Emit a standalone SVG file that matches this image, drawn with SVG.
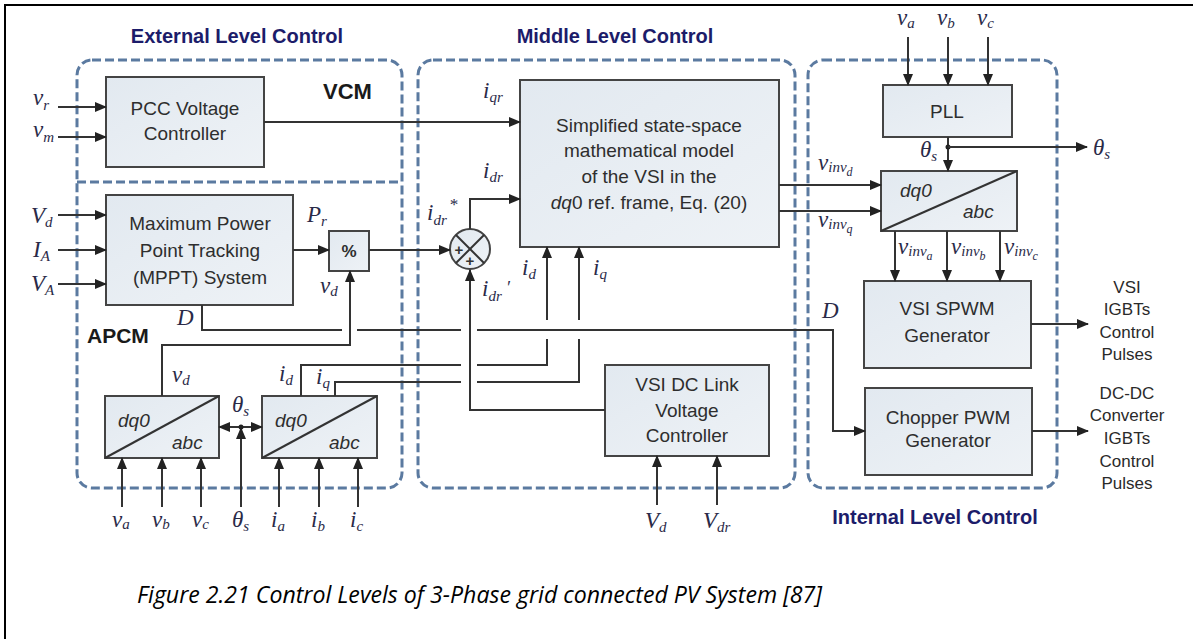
<svg xmlns="http://www.w3.org/2000/svg" width="1193" height="639" viewBox="0 0 1193 639">
<style>
.frame{stroke:#000;stroke-width:2;fill:none}
.cont{fill:none;stroke:#5b7aa0;stroke-width:3;stroke-dasharray:9 4}
.box{fill:url(#bg);stroke:#444;stroke-width:2}
.t{font-family:"Liberation Sans",Arial,sans-serif;font-size:19px;fill:#2e2e2e;text-anchor:middle}
.ti{font-family:"Liberation Sans",Arial,sans-serif;font-size:19px;fill:#2e2e2e;font-style:italic}
.h{font-family:"Liberation Sans",Arial,sans-serif;font-size:20px;font-weight:bold;fill:#1c1c6a;text-anchor:middle}
.b{font-family:"Liberation Sans",Arial,sans-serif;font-size:21px;font-weight:bold;fill:#1a1a1a}
.o{font-family:"Liberation Sans",Arial,sans-serif;font-size:17px;fill:#2a2a2a;text-anchor:middle}
.m{font-family:"Liberation Serif","Times New Roman",serif;font-style:italic;font-size:23px;fill:#2a2a48}
.s{font-size:15px}
.s2{font-size:12px}
.c{fill:none;stroke:#333;stroke-width:2}
.a{fill:none;stroke:#333;stroke-width:2;marker-end:url(#ah)}
.cap{font-family:"Open Sans","Noto Sans",sans-serif;font-style:italic;font-size:24px;fill:#000}
</style>
<defs>
<linearGradient id="bg" x1="0" y1="0" x2="1" y2="1">
<stop offset="0" stop-color="#e2e9f0"/>
<stop offset="1" stop-color="#eef2f6"/>
</linearGradient>
<marker id="ah" markerWidth="12" markerHeight="10" refX="11" refY="5" orient="auto" markerUnits="userSpaceOnUse">
<path d="M0,0 L12,5 L0,10 z" fill="#222"/>
</marker>
</defs>
<rect width="1193" height="639" fill="#fff"/>
<path class="frame" d="M5,639 V5 H1193"/>

<g id="containers">
<rect class="cont" x="77" y="60" width="325" height="428" rx="15"/>
<line class="cont" x1="77" y1="182" x2="402" y2="182"/>
<rect class="cont" x="418" y="60" width="377" height="428" rx="15"/>
<rect class="cont" x="808" y="60" width="249" height="428" rx="15"/>
<text class="h" x="237" y="43">External Level Control</text>
<text class="h" x="615" y="43">Middle Level Control</text>
<text class="h" x="935" y="524">Internal Level Control</text>
<text class="b" x="323" y="99" style="font-size:22px">VCM</text>
<text class="b" x="87" y="343">APCM</text>
</g>

<g id="pcc"><rect class="box" x="106" y="77" width="158" height="90"/>
<text class="t" x="185" y="115">PCC Voltage</text><text class="t" x="185" y="140">Controller</text></g>

<g id="mppt"><rect class="box" x="106" y="195" width="187" height="110"/>
<text class="t" x="200" y="230">Maximum Power</text><text class="t" x="200" y="257">Point Tracking</text><text class="t" x="200" y="284">(MPPT) System</text></g>

<g id="div"><rect class="box" x="329" y="231" width="40" height="40"/>
<text class="t" x="349" y="257" style="font-size:17px;font-weight:bold">%</text></g>

<g id="dq0a"><rect class="box" x="105" y="396" width="114" height="62"/>
<line class="c" x1="105" y1="458" x2="219" y2="396"/>
<text class="ti" x="118" y="427">dq0</text><text class="ti" x="172" y="449">abc</text></g>

<g id="dq0b"><rect class="box" x="262" y="396" width="115" height="62"/>
<line class="c" x1="262" y1="458" x2="377" y2="396"/>
<text class="ti" x="275" y="427">dq0</text><text class="ti" x="329" y="449">abc</text></g>

<g id="model"><rect class="box" x="520" y="80" width="259" height="167"/>
<text class="t" x="649" y="132">Simplified state-space</text>
<text class="t" x="649" y="157">mathematical model</text>
<text class="t" x="649" y="183">of the VSI in the</text>
<text class="t" x="649" y="209"><tspan font-style="italic">dq</tspan>0 ref. frame, Eq. (20)</text></g>

<g id="sum"><circle cx="470" cy="249" r="20" fill="url(#bg)" stroke="#444" stroke-width="2"/>
<line class="c" x1="456" y1="235" x2="484" y2="263"/><line class="c" x1="484" y1="235" x2="456" y2="263"/>
<text x="459" y="255" style="font-family:'Liberation Sans',sans-serif;font-size:15px;font-weight:bold;fill:#333;text-anchor:middle">+</text>
<text x="470" y="266" style="font-family:'Liberation Sans',sans-serif;font-size:15px;font-weight:bold;fill:#333;text-anchor:middle">+</text></g>

<g id="dclink"><rect class="box" x="605" y="365" width="164" height="91"/>
<text class="t" x="687" y="391">VSI DC Link</text><text class="t" x="687" y="417">Voltage</text><text class="t" x="687" y="442">Controller</text></g>

<g id="pll"><rect class="box" x="883" y="85" width="129" height="52"/>
<text class="t" x="947" y="118">PLL</text></g>

<g id="dq0c"><rect class="box" x="881" y="171" width="136" height="60"/>
<line class="c" x1="881" y1="231" x2="1017" y2="171"/>
<text class="ti" x="900" y="197">dq0</text><text class="ti" x="963" y="218">abc</text></g>

<g id="spwm"><rect class="box" x="864" y="281" width="167" height="87"/>
<text class="t" x="947" y="315">VSI SPWM</text><text class="t" x="947" y="342">Generator</text></g>

<g id="chopper"><rect class="box" x="865" y="388" width="167" height="87"/>
<text class="t" x="948" y="424">Chopper PWM</text><text class="t" x="948" y="447">Generator</text></g>

<g id="connectors">
<path class="a" d="M58,107 H106"/>
<path class="a" d="M58,137 H106"/>
<path class="a" d="M264,122 H520"/>
<path class="a" d="M58,215 H106"/>
<path class="a" d="M58,250 H106"/>
<path class="a" d="M58,284 H106"/>
<path class="a" d="M293,250 H329"/>
<path class="a" d="M369,250 H450"/>
<path class="a" d="M470,229 V199 H520"/>
<path class="a" d="M605,410 H470 V270"/>
<path class="a" d="M162,396 V345 H350 V271"/>
<path class="c" d="M202,305 V330 H342"/>
<path class="c" d="M357,330 H461"/>
<path class="a" d="M477,330 H833 V431 H865"/>
<path class="c" d="M301,396 V365 H461"/>
<path class="c" d="M477,365 H547 V339"/>
<path class="a" d="M547,320 V247"/>
<path class="c" d="M335,396 V382 H461"/>
<path class="c" d="M477,382 H579 V339"/>
<path class="a" d="M579,320 V247"/>
<path class="a" d="M241,427 H219"/>
<path class="a" d="M241,427 H262"/>
<path class="a" d="M241,507 V428"/>
<circle cx="241" cy="427" r="2.5" fill="#222"/>
<path class="a" d="M122,507 V458"/>
<path class="a" d="M162,507 V458"/>
<path class="a" d="M201,507 V458"/>
<path class="a" d="M279,507 V458"/>
<path class="a" d="M319,507 V458"/>
<path class="a" d="M358,507 V458"/>
<path class="a" d="M657,505 V456"/>
<path class="a" d="M717,505 V456"/>
<path class="a" d="M908,37 V85"/>
<path class="a" d="M948,37 V85"/>
<path class="a" d="M988,37 V85"/>
<path class="a" d="M948,137 V171"/>
<circle cx="948" cy="147" r="2.5" fill="#222"/>
<path class="a" d="M948,147 H1087"/>
<path class="a" d="M779,185 H881"/>
<path class="a" d="M779,211 H881"/>
<path class="a" d="M895,231 V281"/>
<path class="a" d="M947,231 V281"/>
<path class="a" d="M1000,231 V281"/>
<path class="a" d="M1031,324 H1088"/>
<path class="a" d="M1032,431 H1088"/>
</g>

<g id="labels">
<text class="m" x="33" y="105">v<tspan class="s" dy="5">r</tspan></text>
<text class="m" x="33" y="137">v<tspan class="s" dy="5">m</tspan></text>
<text class="m" x="31" y="223">V<tspan class="s" dy="4">d</tspan></text>
<text class="m" x="33" y="257">I<tspan class="s" dy="4">A</tspan></text>
<text class="m" x="31" y="291">V<tspan class="s" dy="4">A</tspan></text>
<text class="m" x="307" y="222">P<tspan class="s" dy="4">r</tspan></text>
<text class="m" x="320" y="293">v<tspan class="s" dy="3">d</tspan></text>
<text class="m" x="177" y="325">D</text>
<text class="m" x="822" y="318">D</text>
<text class="m" x="172" y="382">v<tspan class="s" dy="3">d</tspan></text>
<text class="m" x="279" y="381">i<tspan class="s" dy="4">d</tspan></text>
<text class="m" x="316" y="384">i<tspan class="s" dy="4">q</tspan></text>
<text class="m" x="232" y="412">θ<tspan class="s" dy="4">s</tspan></text>
<text class="m" x="112" y="527">v<tspan class="s" dy="2">a</tspan></text>
<text class="m" x="152" y="527">v<tspan class="s" dy="2">b</tspan></text>
<text class="m" x="192" y="527">v<tspan class="s" dy="2">c</tspan></text>
<text class="m" x="232" y="527">θ<tspan class="s" dy="4">s</tspan></text>
<text class="m" x="271" y="527">i<tspan class="s" dy="4">a</tspan></text>
<text class="m" x="311" y="527">i<tspan class="s" dy="4">b</tspan></text>
<text class="m" x="350" y="527">i<tspan class="s" dy="4">c</tspan></text>
<text class="m" x="645" y="528">V<tspan class="s" dy="4">d</tspan></text>
<text class="m" x="703" y="528">V<tspan class="s" dy="4">dr</tspan></text>
<text class="m" x="483" y="98">i<tspan class="s" dy="4">qr</tspan></text>
<text class="m" x="483" y="178">i<tspan class="s" dy="4">dr</tspan></text>
<text class="m" x="427" y="220">i<tspan class="s" dy="5">dr</tspan></text>
<text class="m" x="449" y="210" style="font-size:17px">*</text>
<text class="m" x="482" y="296">i<tspan class="s" dy="5">dr</tspan></text>
<text class="m" x="506" y="294" style="font-size:18px">′</text>
<text class="m" x="522" y="275">i<tspan class="s" dy="4">d</tspan></text>
<text class="m" x="593" y="275">i<tspan class="s" dy="4">q</tspan></text>
<text class="m" x="897" y="25">v<tspan class="s" dy="3">a</tspan></text>
<text class="m" x="937" y="25">v<tspan class="s" dy="3">b</tspan></text>
<text class="m" x="977" y="25">v<tspan class="s" dy="3">c</tspan></text>
<text class="m" x="920" y="157">θ<tspan class="s" dy="4">s</tspan></text>
<text class="m" x="1093" y="155">θ<tspan class="s" dy="4">s</tspan></text>
<text class="m" x="818" y="170">v<tspan class="s" dy="2">inv</tspan><tspan class="s2" dy="4">d</tspan></text>
<text class="m" x="818" y="227">v<tspan class="s" dy="2">inv</tspan><tspan class="s2" dy="4">q</tspan></text>
<text class="m" x="898" y="254">v<tspan class="s" dy="2">inv</tspan><tspan class="s2" dy="4">a</tspan></text>
<text class="m" x="951" y="254">v<tspan class="s" dy="2">inv</tspan><tspan class="s2" dy="4">b</tspan></text>
<text class="m" x="1004" y="254">v<tspan class="s" dy="2">inv</tspan><tspan class="s2" dy="4">c</tspan></text>
<text class="o" x="1127" y="293">VSI</text>
<text class="o" x="1127" y="315">IGBTs</text>
<text class="o" x="1127" y="338">Control</text>
<text class="o" x="1127" y="360">Pulses</text>
<text class="o" x="1127" y="399">DC-DC</text>
<text class="o" x="1127" y="421">Converter</text>
<text class="o" x="1127" y="444">IGBTs</text>
<text class="o" x="1127" y="467">Control</text>
<text class="o" x="1127" y="489">Pulses</text>
</g>
<text class="cap" x="137" y="603" textLength="685" lengthAdjust="spacingAndGlyphs">Figure 2.21 Control Levels of 3-Phase grid connected PV System [87]</text>
</svg>
